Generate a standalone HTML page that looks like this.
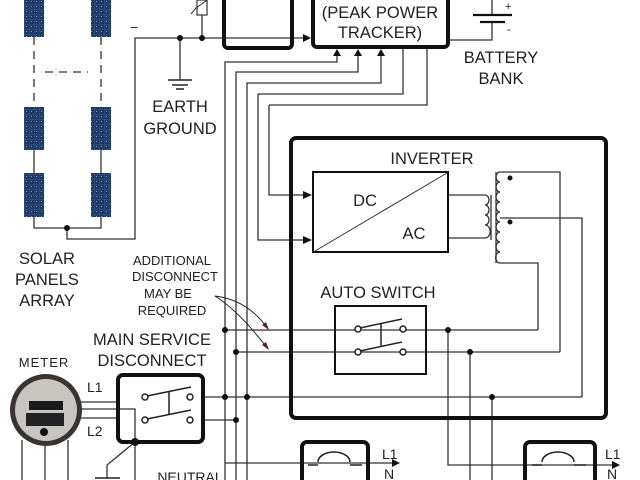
<!DOCTYPE html>
<html><head><style>
html,body{margin:0;padding:0;background:#fff;width:640px;height:480px;overflow:hidden}
svg{display:block}
text{font-family:"Liberation Sans",sans-serif;fill:#222}
</style></head><body>
<svg width="640" height="480" viewBox="0 0 640 480" xmlns="http://www.w3.org/2000/svg">
<defs>
<pattern id="pv" width="5" height="5" patternUnits="userSpaceOnUse"><rect width="5" height="5" fill="#2a4a7a"/><rect x="0" y="0" width="4" height="4" fill="#1e3866"/><rect x="1" y="1" width="1" height="1" fill="#8aa0c8"/></pattern>
</defs>
<g fill="none" stroke="#333" stroke-width="1.3">
<path d="M34 37 V107 M101 37 V107 M45 72 H88" stroke-dasharray="8,6"/>
<path d="M34 150 V173 M101 150 V173 M34 217 V228 H101 V217 M67 228 V239 H135 V38 H308"/>
<path d="M180 38 V80 M202 38 V15"/>
<path d="M225 480 V62 H337 V52 M236 480 V72 H358 V52 M247 480 V83 H381 V52 M258 94 H403 V48 M269 105 H427 V48"/>
<path d="M269 105 V195 H309 M258 94 V240 H309"/>
<path d="M448 40 H492 V22 M492 15 V0"/>
<path d="M448 195 H485 M448 238 H485"/>
<path d="M500 172 H560 V352 M500 218 H582 V397 M500 263 H538 V330"/>
<path d="M225 330 H538 M236 352 H560 M247 397 H582"/>
<path d="M448 330 V465 H616 M470 352 V480 M492 397 V480"/>
<path d="M225 463 H396"/>
<path d="M80 402 H117 M80 418 H117 M80 409 H135 V480 M203 397 H247 M203 420 H236"/>
<path d="M22 440 V480 M45 444 V480 M68 440 V480"/>
<path d="M135 442 L107 465 V478"/>
</g>
<path d="M473 15 H512 M480 22 H505" stroke="#111" stroke-width="2.2" fill="none"/>
<g fill="#111">
<path d="M303 34 L311 38 L303 42z M303 191 L312 195 L303 199z M303 236 L312 240 L303 244z"/>
<path d="M333 56 L337 49 L341 56z M354 56 L358 49 L362 56z M377 56 L381 49 L385 56z"/>
<path d="M392 459 L400 463 L392 467z M612 461 L620 465 L612 469z"/>
<circle cx="67" cy="228" r="3"/><circle cx="180" cy="38" r="3"/><circle cx="202" cy="38" r="3"/>
<circle cx="225" cy="330" r="3"/><circle cx="236" cy="352" r="3"/><circle cx="225" cy="397" r="3"/><circle cx="247" cy="397" r="3"/><circle cx="236" cy="420" r="3"/>
<circle cx="448" cy="330" r="3"/><circle cx="470" cy="352" r="3"/><circle cx="492" cy="397" r="3"/>
<circle cx="135" cy="442" r="4"/><circle cx="510" cy="178" r="2.5"/><circle cx="510" cy="222" r="2.5"/>
</g>
<g fill="url(#pv)"><rect x="24" y="0" width="20" height="37"/><rect x="91" y="0" width="20" height="37"/>
<rect x="24" y="107" width="20" height="43"/><rect x="91" y="107" width="20" height="43"/>
<rect x="24" y="173" width="20" height="44"/><rect x="91" y="173" width="20" height="44"/></g>
<g stroke="#222" stroke-width="1.5"><path d="M168 80 H192 M172 85 H188 M176 89 H184"/><path d="M95 478 H120"/></g>
<rect x="197" y="0" width="10" height="15" fill="#fff" stroke="#333" stroke-width="1.2"/>
<path d="M191 14 L196 8 L210 -2" stroke="#333" fill="none"/>
<text x="130" y="32" font-size="14">−</text>
<g fill="none" stroke="#111" stroke-width="4">
<rect x="224" y="-8" width="68" height="56" rx="4"/>
<rect x="313" y="-8" width="135" height="55" rx="4"/>
<rect x="291" y="138" width="315" height="280" rx="5"/>
<rect x="118" y="375" width="85" height="67" rx="5"/>
<rect x="302" y="442" width="66" height="50" rx="5"/>
<rect x="525" y="442" width="70" height="50" rx="5"/>
</g>
<g fill="none" stroke="#111" stroke-width="2">
<rect x="313" y="172" width="135" height="80"/>
<rect x="335" y="306" width="91" height="68"/>
</g>
<path d="M315 251 L447 173" stroke="#333" fill="none"/>
<g fill="none" stroke="#333" stroke-width="1.3">
<path d="M485 195 a4 5 0 0 1 0 10 a4 5 0 0 1 0 10 a4 5 0 0 1 0 10 a4 5 0 0 1 0 13"/>
<path d="M491 195 V240 M496 172 V263"/>
<path d="M500 172 a4 5 0 0 0 0 10 a4 5 0 0 0 0 10 a4 5 0 0 0 0 10 a4 5 0 0 0 0 10 a4 5 0 0 0 0 10 a4 5 0 0 0 0 10 a4 5 0 0 0 0 10 a4 5 0 0 0 0 10 a4 5 0 0 0 0 11"/>
</g>
<g fill="#fff" stroke="#222" stroke-width="1.5">
<circle cx="358" cy="329" r="3"/><circle cx="358" cy="352" r="3"/><circle cx="403" cy="329" r="3"/><circle cx="403" cy="352" r="3"/>
<circle cx="145" cy="397" r="3"/><circle cx="145" cy="420" r="3"/><circle cx="190" cy="397" r="3"/><circle cx="190" cy="420" r="3"/>
</g>
<g stroke="#222" stroke-width="1.5" fill="none">
<path d="M360 328 L402 319 M360 351 L402 342 M381 324 V346"/>
<path d="M147 396 L191 387 M147 419 L191 410 M169 392 V414"/>
<path d="M308 465 H318 M350 465 H362 M318 462 a16 10 0 0 1 32 0"/>
<path d="M532 465 H542 M574 465 H586 M542 462 a16 10 0 0 1 32 0"/>
<path d="M215 296 Q248 300 268 329 M215 296 Q240 312 268 349" stroke-width="1"/>
</g>
<g fill="#5a2020"><path d="M262 325 L269 330 L266 322z M262 345 L269 350 L266 342z"/></g>
<circle cx="46" cy="410" r="36" fill="#3a3330"/>
<circle cx="46" cy="410" r="31" fill="#c8c4c0"/>
<rect x="29" y="401" width="34" height="9" fill="#1a1a1a"/>
<rect x="26" y="413" width="38" height="13" fill="#222"/>
<circle cx="44" cy="432" r="4" fill="#111"/>
<g font-size="16.5" text-anchor="middle">
<text x="380" y="18">(PEAK POWER</text><text x="380" y="38">TRACKER)</text>
<text x="501" y="63">BATTERY</text><text x="501" y="84">BANK</text>
<text x="180" y="112">EARTH</text><text x="180" y="134">GROUND</text>
<text x="47" y="264">SOLAR</text><text x="47" y="285">PANELS</text><text x="47" y="306">ARRAY</text>
<text x="432" y="164">INVERTER</text>
<text x="365" y="206">DC</text>
<text x="414" y="239">AC</text>
<text x="378" y="298">AUTO SWITCH</text>
<text x="152" y="345">MAIN SERVICE</text><text x="152" y="366">DISCONNECT</text>
</g>
<g font-size="13" text-anchor="middle">
<text x="172" y="265">ADDITIONAL</text><text x="175" y="281">DISCONNECT</text><text x="168" y="298">MAY BE</text><text x="172" y="315">REQUIRED</text>
<text x="44" y="367" letter-spacing="1">METER</text>
<text x="190" y="482" font-size="14">NEUTRAL</text>
</g>
<g font-size="14">
<text x="87" y="392">L1</text><text x="87" y="436">L2</text>
<text x="382" y="459">L1</text><text x="384" y="479">N</text>
<text x="605" y="459">L1</text><text x="607" y="479">N</text>
<text x="505" y="10" font-size="11">+</text><text x="507" y="33" font-size="11">-</text>
</g>
</svg>
</body></html>
